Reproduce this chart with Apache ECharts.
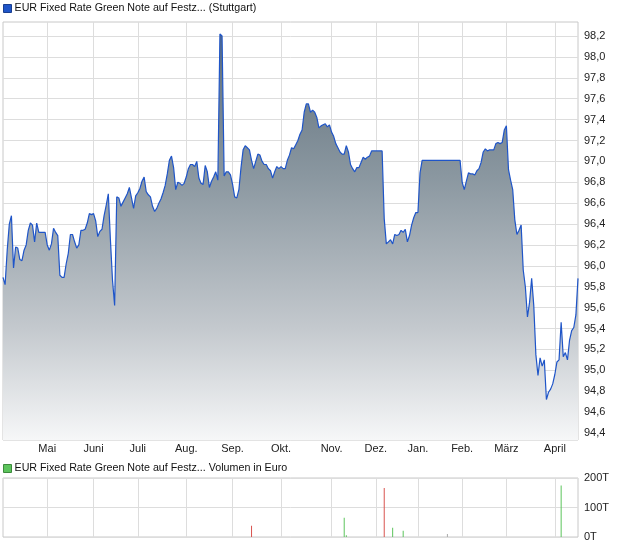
<!DOCTYPE html>
<html>
<head>
<meta charset="utf-8">
<script src="https://cdn.jsdelivr.net/npm/echarts@6/dist/echarts.min.js"></script>
<style>
html,body{margin:0;padding:0;background:#fff;}
#chart{width:620px;height:546px;}
</style>
</head>
<body>
<div id="chart"></div>
<script>
const priceTitle = 'EUR Fixed Rate Green Note auf Festz... (Stuttgart)';
const volumeTitle = 'EUR Fixed Rate Green Note auf Festz... Volumen in Euro';

// daily closing prices
const prices = [
  95.89,95.82,96.15,96.40,96.48,95.98,96.18,96.17,96.06,96.05,
  96.15,96.20,96.34,96.41,96.39,96.23,96.41,96.32,96.32,96.32,
  96.32,96.20,96.15,96.21,96.36,96.32,96.29,95.91,95.89,95.89,
  96.02,96.12,96.30,96.30,96.23,96.17,96.20,96.34,96.34,96.35,
  96.41,96.50,96.49,96.50,96.43,96.28,96.33,96.35,96.48,96.58,
  96.69,96.25,95.86,95.62,96.66,96.65,96.57,96.61,96.65,96.69,
  96.75,96.65,96.55,96.67,96.70,96.74,96.81,96.85,96.71,96.68,
  96.66,96.57,96.52,96.55,96.60,96.64,96.70,96.77,96.88,97.01,
  97.05,96.94,96.73,96.80,96.79,96.77,96.79,96.85,96.93,96.97,
  96.97,96.95,97.00,96.84,96.79,96.78,96.96,96.90,96.75,96.81,
  96.85,96.90,96.82,98.22,98.20,96.86,96.90,96.90,96.87,96.78,
  96.66,96.65,96.73,96.94,97.11,97.15,97.13,97.11,97.01,96.93,
  97.00,97.07,97.06,97.00,96.97,96.97,96.93,96.91,96.84,96.90,
  96.95,96.93,96.95,96.93,96.93,97.01,97.06,97.13,97.12,97.16,
  97.20,97.26,97.30,97.47,97.55,97.55,97.47,97.49,97.47,97.42,
  97.32,97.34,97.35,97.36,97.33,97.35,97.28,97.24,97.17,97.13,
  97.09,97.07,97.07,97.15,97.09,96.97,96.93,96.90,96.94,96.94,
  96.99,97.04,97.02,97.04,97.05,97.10,97.10,97.10,97.10,97.10,
  97.10,96.45,96.21,96.23,96.25,96.21,96.30,96.29,96.30,96.34,
  96.32,96.35,96.23,96.29,96.39,96.46,96.51,96.51,96.89,97.01,
  97.01,97.01,97.01,97.01,97.01,97.01,97.01,97.01,97.01,97.01,
  97.01,97.01,97.01,97.01,97.01,97.01,97.01,97.01,96.80,96.73,
  96.81,96.89,96.88,96.88,96.87,96.91,96.93,96.99,97.09,97.12,
  97.10,97.11,97.11,97.11,97.17,97.18,97.17,97.18,97.30,97.34,
  96.92,96.82,96.73,96.44,96.30,96.34,96.39,95.96,95.80,95.51,
  95.65,95.88,95.62,95.15,94.95,95.12,95.04,95.10,94.72,94.79,
  94.82,94.87,94.96,95.08,95.10,95.46,95.13,95.17,95.10,95.29,
  95.38,95.41,95.53,95.88
];

// month labels and the trading-day index where each month starts
const monthLabels = ['Mai','Juni','Juli','Aug.','Sep.','Okt.','Nov.','Dez.','Jan.','Feb.','März','April'];
const monthStartIdx = [21, 43, 64, 87, 109, 132, 156, 177, 197, 218, 239, 262];

// volume (thousand euro) on the few trading days with turnover
const volumeIdx    = [118, 162, 163, 181, 185, 190, 211, 265];
const volumeValues = [38, 65, 6, 166, 31, 21, 10, 175];
const volumeDir    = ['down','up','up','down','up','up','flat','up'];

// axis ticks
const priceMin = 94.4, priceMax = 98.2, priceStep = 0.2;
const volumeTicks = [0, 100, 200];

const FONT = '"Liberation Sans", Arial, sans-serif';
const dirColor = {up: '#5cc45c', down: '#d9534f', flat: '#aaaaaa'};

const days = prices.map((_, i) => String(i));
const labelAt = {};
monthStartIdx.forEach((idx, k) => { labelAt[idx] = monthLabels[k]; });
const isMonthStart = (i) => labelAt[i] !== undefined;

const volumeData = days.map(() => '-');
volumeIdx.forEach((idx, k) => {
  volumeData[idx] = {value: volumeValues[k], itemStyle: {color: dirColor[volumeDir[k]]}};
});

// plot frame geometry
const PL = 3, PW = 575;
const frameTop = 22, frameH = 418;     // main plot frame
const tickTop = 36, tickH = 397;        // span from 98,2 to 94,4
const pxPerUnit = tickH / (priceMax - priceMin);
const dataMin = priceMin - (frameTop + frameH - (tickTop + tickH)) / pxPerUnit;
const dataMax = priceMax + (tickTop - frameTop) / pxPerUnit;

const gridLineColor = '#dddddd';
const frameColor = '#c8c8c8';

const chart = echarts.init(document.getElementById('chart'), null, {renderer: 'canvas'});
chart.setOption({
  animation: false,
  textStyle: {fontFamily: FONT},
  legend: [
    {
      data: [priceTitle], left: 3, top: 3, padding: 0, icon: 'rect',
      itemWidth: 8, itemHeight: 8, selectedMode: false,
      itemStyle: {borderColor: '#1a3f8f', borderWidth: 1},
      textStyle: {fontSize: 10.7, color: '#111', fontFamily: FONT, padding: [0,0,0,-2]}
    },
    {
      data: [volumeTitle], left: 3, top: 463, padding: 0, icon: 'rect',
      itemWidth: 8, itemHeight: 8, selectedMode: false,
      itemStyle: {borderColor: '#3d8a3d', borderWidth: 1},
      textStyle: {fontSize: 10.7, color: '#111', fontFamily: FONT, padding: [0,0,0,-2]}
    }
  ],
  grid: [
    {left: PL, width: PW, top: frameTop, height: frameH, show: true,
     borderColor: frameColor, borderWidth: 1, backgroundColor: '#fff'},
    {left: PL, width: PW, top: tickTop, height: tickH, show: false},
    {left: PL, width: PW, top: 478, height: 59, show: true,
     borderColor: frameColor, borderWidth: 1, backgroundColor: '#fff'}
  ],
  xAxis: [
    {
      gridIndex: 0, type: 'category', data: days, boundaryGap: false,
      axisLine: {show: false}, axisTick: {show: false},
      axisLabel: {
        interval: (i) => isMonthStart(i),
        formatter: (v, i) => labelAt[i] || '',
        color: '#222', fontSize: 11, margin: 3, fontFamily: FONT
      },
      splitLine: {show: true, interval: (i) => isMonthStart(i),
                  lineStyle: {color: gridLineColor, width: 1}}
    },
    {gridIndex: 1, type: 'category', data: days, boundaryGap: false, show: false},
    {
      gridIndex: 2, type: 'category', data: days, boundaryGap: false,
      axisLine: {show: false}, axisTick: {show: false}, axisLabel: {show: false},
      splitLine: {show: true, interval: (i) => isMonthStart(i),
                  lineStyle: {color: gridLineColor, width: 1}}
    }
  ],
  yAxis: [
    {gridIndex: 0, type: 'value', min: dataMin, max: dataMax, show: false,
     splitLine: {show: false}},
    {
      gridIndex: 1, type: 'value', position: 'right',
      min: priceMin, max: priceMax, interval: priceStep,
      axisLine: {show: false}, axisTick: {show: false},
      axisLabel: {formatter: (v) => v.toFixed(1).replace('.', ','),
                  color: '#222', fontSize: 11, margin: 6, fontFamily: FONT},
      splitLine: {show: true, lineStyle: {color: gridLineColor, width: 1}}
    },
    {
      gridIndex: 2, type: 'value', position: 'right',
      min: volumeTicks[0], max: volumeTicks[volumeTicks.length - 1],
      interval: volumeTicks[1] - volumeTicks[0],
      axisLine: {show: false}, axisTick: {show: false},
      axisLabel: {formatter: (v) => v + 'T', color: '#222', fontSize: 11,
                  margin: 6, fontFamily: FONT},
      splitLine: {show: true, lineStyle: {color: gridLineColor, width: 1}}
    }
  ],
  series: [
    {
      name: priceTitle, type: 'line', xAxisIndex: 0, yAxisIndex: 0,
      data: prices, showSymbol: false,
      itemStyle: {color: '#1f55c8'},
      lineStyle: {color: '#1f55c8', width: 1.2},
      areaStyle: {
        opacity: 1, origin: 'start',
        color: {
          type: 'linear', x: 0, y: 0, x2: 0, y2: 1,
          colorStops: [
            {offset: 0, color: '#5f6f7b'},
            {offset: 0.35, color: '#8a97a0'},
            {offset: 0.72, color: '#c3c8cd'},
            {offset: 1, color: '#f6f7f8'}
          ]
        }
      }
    },
    {
      name: volumeTitle, type: 'bar', xAxisIndex: 2, yAxisIndex: 2,
      data: volumeData, barWidth: 1, itemStyle: {color: '#5cc45c'}
    }
  ]
});
</script>
</body>
</html>
